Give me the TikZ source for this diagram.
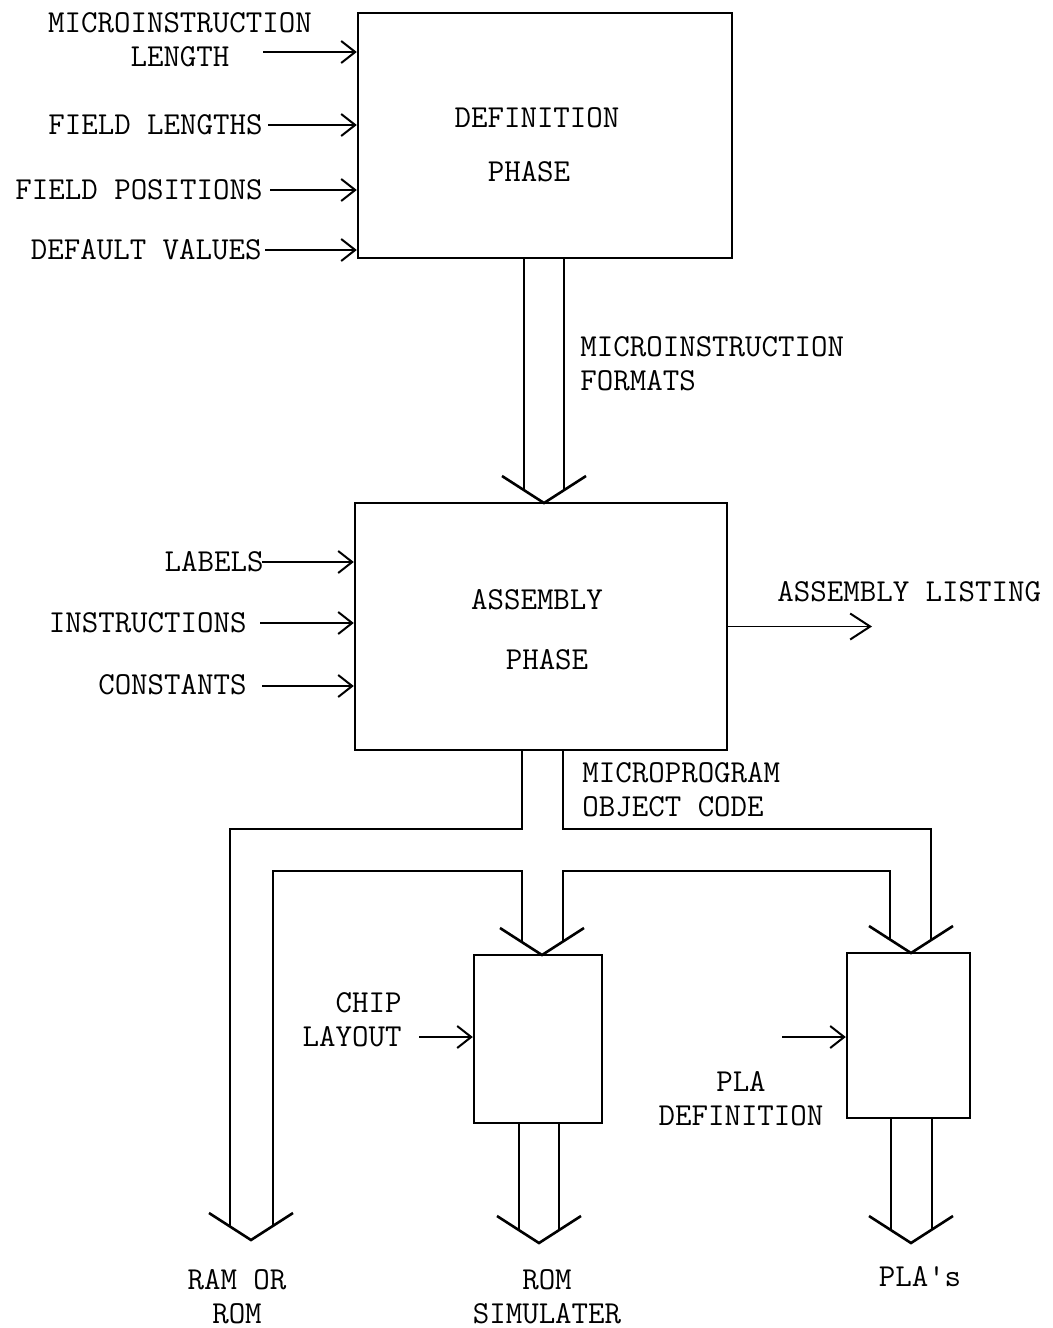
\documentclass[tikz,border=0pt]{standalone}
\usetikzlibrary{arrows.meta,fit}
% open chevron head of a wide (bus) arrow, tip at #1
\newcommand\bushead[1]{\draw[head] (#1) +(-42,-27) -- (#1) -- +(42,-27);}
\begin{document}
\begin{tikzpicture}[x=0.5pt,y=-0.5pt,
  lbl/.style={font=\ttfamily\fontsize{16}{17}\selectfont, inner sep=0pt},
  blk/.style={draw, line width=1.2pt, inner sep=0pt},
  feed/.style={line width=1pt, -{Straight Barb[length=7pt,width=11pt,line width=1pt]}},
  bigfeed/.style={line width=0.9pt, -{Straight Barb[length=10pt,width=13pt,line width=1pt]}},
  bus/.style={line width=1.1pt, line join=miter},
  head/.style={line width=1.3pt, line join=miter}]
\useasboundingbox (0,0) rectangle (1053,1328);

% ---- blocks ----
\node[blk, fit={(358,13) (732,258)}] (def) {};
\node[blk, fit={(355,503) (727,750)}] (asm) {};
\node[blk, fit={(474,955) (602,1123)}] (rom) {};
\node[blk, fit={(847,953) (970,1118)}] (pla) {};

\node[lbl] (defa) at (537,118) {DEFINITION};
\node[lbl] (defb) at (529,172) {PHASE};
\node[lbl] (asma) at (537,600) {ASSEMBLY};
\node[lbl] (asmb) at (547,660) {PHASE};

% ---- inputs of the definition phase ----
\node[lbl, align=center] (mil) at (180,40) {MICROINSTRUCTION\\LENGTH};
\node[lbl, anchor=east] (fl) at (263,125) {FIELD LENGTHS};
\node[lbl, anchor=east] (fp) at (263,190) {FIELD POSITIONS};
\node[lbl, anchor=east] (dv) at (262,250) {DEFAULT VALUES};
\coordinate (mil0) at (263,52);
\coordinate (fl0) at (268,125);
\coordinate (fp0) at (270,190);
\coordinate (dv0) at (265,250);
\foreach \c in {mil0,fl0,fp0,dv0} \draw[feed] (\c) -- (\c -| def.west);

% ---- definition -> assembly ----
\node[lbl, anchor=west, align=left] (fmt) at (580,364) {MICROINSTRUCTION\\FORMATS};
\coordinate (t1) at (544,503);
\draw[bus] (524,0 |- def.south) -- (524,490);
\draw[bus] (564,0 |- def.south) -- (564,490);
\bushead{t1}

% ---- inputs of the assembly phase ----
\node[lbl, anchor=east] (lab) at (264,562) {LABELS};
\node[lbl, anchor=east] (ins) at (247,623) {INSTRUCTIONS};
\node[lbl, anchor=east] (con) at (247,685) {CONSTANTS};
\coordinate (lab0) at (262,562);
\coordinate (ins0) at (260,623);
\coordinate (con0) at (262,686);
\foreach \c in {lab0,ins0,con0} \draw[feed] (\c) -- (\c -| asm.west);

% ---- listing output ----
\node[lbl, anchor=west] (lst) at (777,592) {ASSEMBLY LISTING};
\coordinate (lst0) at (872,0 |- asm.east);
\draw[bigfeed] (asm.east) -- (lst0);

% ---- object code bus ----
\node[lbl, anchor=west, align=left] (obj) at (582,790) {MICROPROGRAM\\OBJECT CODE};
\coordinate (tram) at (251,1240);
\coordinate (trom) at (542,955);
\coordinate (tpla) at (911,953);
\draw[bus] (522,0 |- asm.south) -- (522,829) -- (230,829) -- (230,1226);
\draw[bus] (563,0 |- asm.south) -- (563,829) -- (931,829) -- (931,940);
\draw[bus] (273,1226) -- (273,871) -- (522,871) -- (522,942);
\draw[bus] (563,941) -- (563,871) -- (890,871) -- (890,939);
\bushead{tram}
\bushead{trom}
\bushead{tpla}

% ---- side inputs of the lower blocks ----
\node[lbl, align=right, anchor=east] (chip) at (402,1020) {CHIP\\LAYOUT};
\coordinate (chip0) at (419,1037);
\draw[feed] (chip0) -- (chip0 -| rom.west);
\node[lbl, align=center] (pladef) at (741,1099) {PLA\\DEFINITION};
\coordinate (pla0) at (782,1037);
\draw[feed] (pla0) -- (pla0 -| pla.west);

% ---- outputs ----
\coordinate (trout) at (539,1243);
\coordinate (tpout) at (911,1243);
\draw[bus] (519,0 |- rom.south) -- (519,1230);
\draw[bus] (559,0 |- rom.south) -- (559,1230);
\draw[bus] (891,0 |- pla.south) -- (891,1230);
\draw[bus] (932,0 |- pla.south) -- (932,1230);
\bushead{trout}
\bushead{tpout}

\node[lbl, align=center] (ram) at (237,1297) {RAM OR\\ROM};
\node[lbl, align=center] (romsim) at (547,1297) {ROM\\SIMULATER};
\node[lbl] (plas) at (920,1277) {PLA\textquotesingle s};
\end{tikzpicture}
\end{document}
